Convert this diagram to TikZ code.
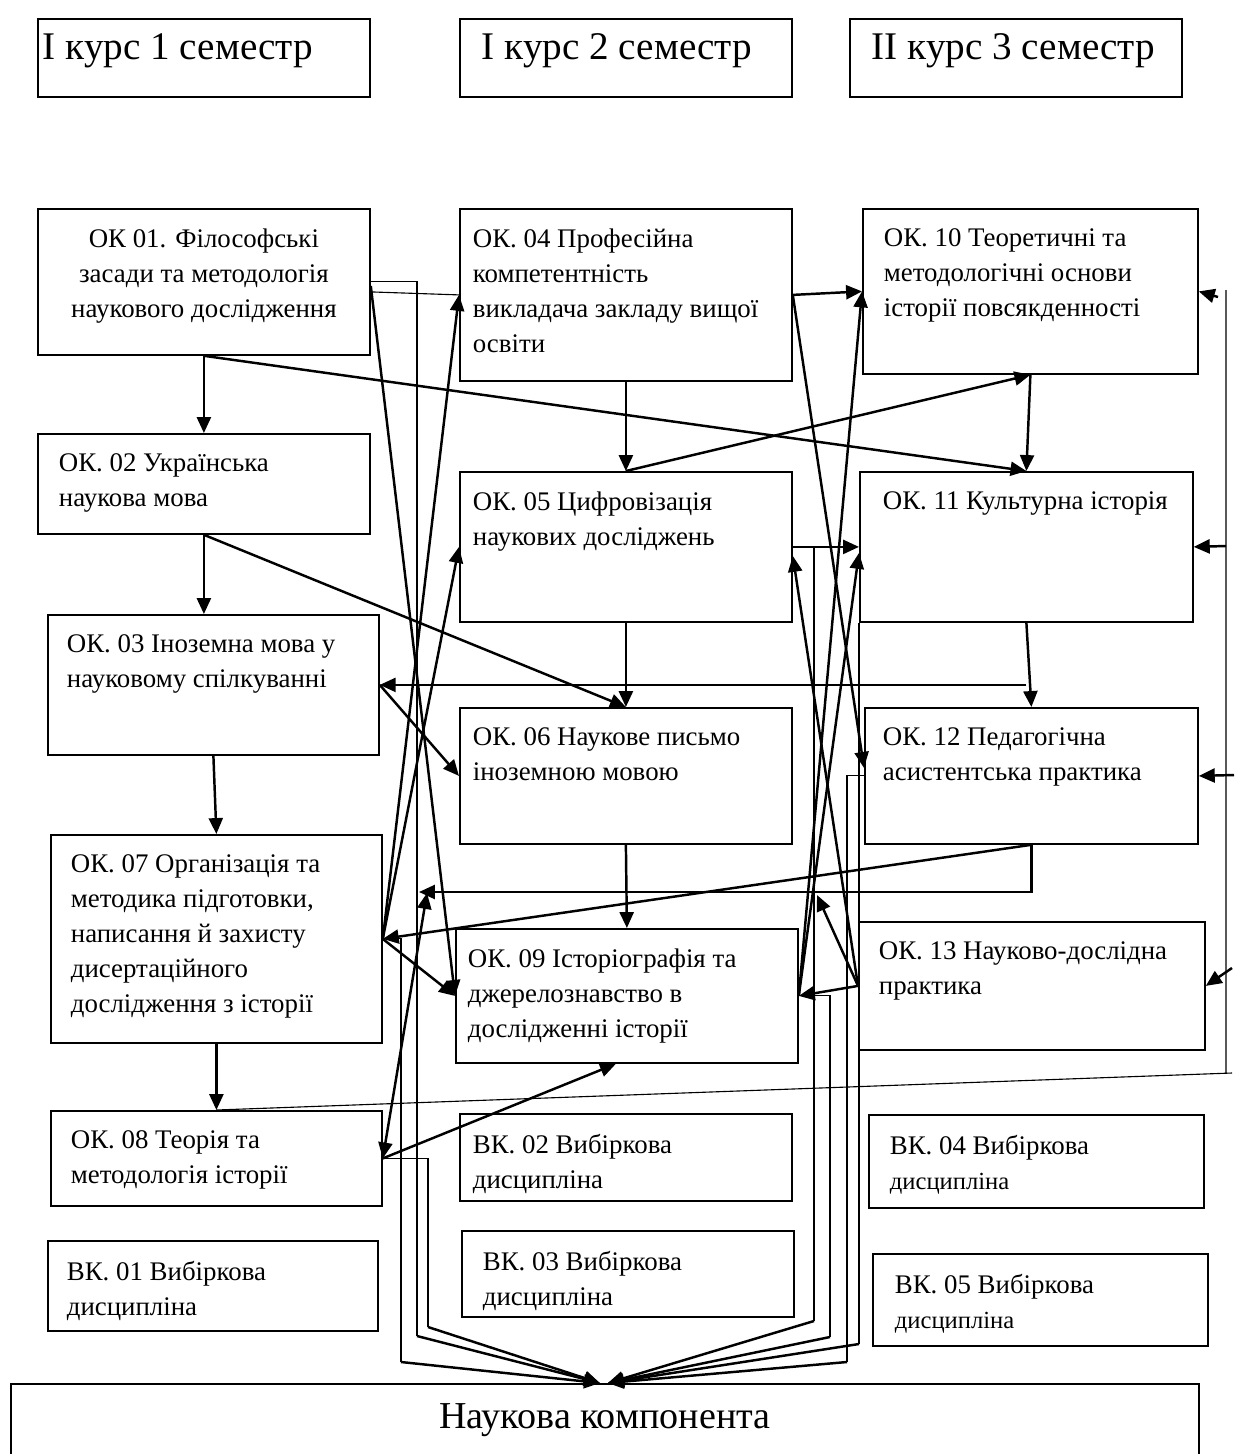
\documentclass[tikz,border=0pt]{standalone}
\usepackage{fontspec}
\setmainfont{Liberation Serif}
\usetikzlibrary{arrows.meta, calc}

\newlength{\pxu}
\setlength{\pxu}{0.157mm}
\newcommand{\boxtext}[3]{\parbox[c][#2\pxu][t]{#1\pxu}{\raggedright #3}}

\tikzset{
  disc/.style={draw, line width=0.8pt, anchor=north west, inner xsep=#1\pxu, inner ysep=20\pxu, font=\fontsize{12}{15.6}\selectfont},
  disc/.default=20,
  head/.style={disc=#1, inner ysep=15\pxu, font=\fontsize{17.5}{22}\selectfont},
  link/.style={line width=1.1pt},
  wire/.style={line width=0.5pt},
}

\begin{document}
\begin{tikzpicture}[x=0.157mm, y=-0.157mm, >={Triangle[length=2.5mm, width=2.2mm]}]
                                \useasboundingbox (0,0) rectangle (1236,1454);

                                \node[head=5] (sem1) at (37,18) {\boxtext{322}{48}{І курс 1 семестр}};
                                \node[head=22] (sem2) at (459,18) {\boxtext{288}{48}{І курс 2 семестр}};
                                \node[head=22] (sem3) at (849,18) {\boxtext{288}{48}{ІІ курс 3 семестр}};

                                \node[disc=10] (ok01) at (37,208) {\boxtext{312}{106}{\centering ОК 01. Філософські\\ засади та методологія\\ наукового дослідження}};
                                \node[disc=21] (ok02) at (37,433) {\boxtext{290}{60}{ОК. 02 Українська\\ наукова мова}};
                                \node[disc=19] (ok03) at (47,614) {\boxtext{293}{100}{ОК. 03 Іноземна мова у\\ науковому спілкуванні}};
                                \node[disc=20] (ok07) at (50,834) {\boxtext{291}{168}{ОК. 07 Організація та\\ методика підготовки,\\ написання й захисту\\ дисертаційного\\ дослідження з історії}};
                                \node[disc=20] (ok08) at (50,1110) {\boxtext{291}{55}{ОК. 08 Теорія та\\ методологія історії}};
                                \node[disc=19] (vk01) at (47,1240) {\boxtext{292}{50}{ВК. 01 Вибіркова\\ дисципліна}};

                                \node[disc=13] (ok04) at (459,208) {\boxtext{306}{132}{ОК. 04 Професійна\\ компетентність\\ викладача закладу вищої\\ освіти}};
                                \node[disc=13] (ok05) at (459,471) {\boxtext{306}{110}{ОК. 05 Цифровізація\\ наукових досліджень}};
                                \node[disc=13] (ok06) at (459,707) {\boxtext{306}{96}{ОК. 06 Наукове письмо\\ іноземною мовою}};
                                \node[disc=12] (ok09) at (455,928) {\boxtext{318}{94}{ОК. 09 Історіографія та\\ джерелознавство в\\ дослідженні історії}};
                                \node[disc=13] (vk02) at (459,1113) {\boxtext{306}{47}{ВК. 02 Вибіркова\\ дисципліна}};
                                \node[disc=21] (vk03) at (461,1230) {\boxtext{290}{46}{ВК. 03 Вибіркова\\ дисципліна}};

                                \node[disc=21] (ok10) at (862,208) {\boxtext{293}{125}{ОК. 10 Теоретичні та\\ методологічні основи\\ історії повсякденності}};
                                \node[disc=23] (ok11) at (859,471) {\boxtext{287}{110}{ОК. 11 Культурна історія}};
                                \node[disc=18] (ok12) at (864,707) {\boxtext{297}{96}{ОК. 12 Педагогічна\\ асистентська практика}};
                                \node[disc=20] (ok13) at (858,921) {\boxtext{306}{88}{ОК. 13 Науково-дослідна\\ практика}};
                                \node[disc=21] (vk04) at (868,1114) {\boxtext{293}{53}{ВК. 04 Вибіркова\\ {\fontsize{11}{14}\selectfont дисципліна}}};
                                \node[disc=22] (vk05) at (872,1253) {\boxtext{291}{52}{ВК. 05 Вибіркова\\ {\fontsize{11}{14}\selectfont дисципліна}}};

                                \node[disc=0, font=\fontsize{17}{20}\selectfont] (nk) at (10,1383) {\boxtext{1188}{60}{\centering Наукова компонента}};

                                \coordinate (nkl) at ($(nk.north)+(-5,0)$);
                                \coordinate (nkr) at ($(nk.north)+(3,0)$);
                                \coordinate (hit1) at (419,892);
                                \coordinate (hit2) at (427,893);
                                \coordinate (hit3) at (817,895);

                                \draw[link]
                                (ok01.south) edge[->] (ok02.north)
                                (ok01.south) edge[->] (ok11.north)
                                (ok02.south) edge[->] (ok02.south |- ok03.north)
                                (ok02.south) edge[->] (ok06.north)
                                (ok03.south) edge[->] (ok07.north)
                                (ok07.south) edge[->] (ok08.north)
                                (ok03.east) edge[->] (ok06.west)
                                (ok04.south) edge[->] (ok05.north)
                                (ok05.north) edge[->] (ok10.south)
                                (ok10.south) edge[->] (ok11.north)
                                (ok05.south) edge[->] (ok06.north)
                                (ok06.south) edge[->] (ok09.north)
                                (ok11.south) edge[->] (ok12.north)
                                (ok11.south |- ok03.east) edge[->] (ok03.east)
                                (ok12.south) edge[->] (ok07.east)
                                (ok07.east) edge[->] (ok04.west)
                                (ok07.east) edge[->] (ok05.west)
                                (ok07.east) edge[->] (ok09.west)
                                ([yshift=-4\pxu]ok01.east) edge[->] (ok09.west)
                                (ok04.east) edge[->] (ok10.west)
                                (ok04.east) edge[->] ([yshift=8\pxu]ok12.west)
                                (ok05.east) edge[->] (ok11.west)
                                (ok09.east) edge[->] (ok10.west)
                                (ok09.east) edge[->] ([yshift=-6\pxu]ok11.west)
                                (ok13.west) edge[->] ([yshift=-9\pxu]ok05.east)
                                (ok13.west) edge[->] (ok09.east)
                                (ok13.west) edge[->] (hit3)
                                (ok08.east) edge[->] ([xshift=-11\pxu]ok09.south)
                                (hit2) edge[<->] (ok08.east);

                                \draw[link, ->] (ok12.south) |- (hit1);

                                \draw[wire] ([yshift=-10\pxu]ok01.east) -- (ok04.west);
                                \draw[wire] (ok01.east) -| (417,1336) edge[link, ->] (nkl);
                                \draw[wire] (ok07.east) -| (401,1362) edge[link, ->] (nkl);
                                \draw[wire] (ok08.east) -| (428,1327) edge[link, ->] (nkl);
                                \draw[wire] (ok05.east) -| (814,1321) edge[link, ->] (nkr);
                                \draw[wire] (ok09.east) -| (830,1337) edge[link, ->] (nkr);
                                \draw[wire] (ok12.west) -| (847,1362) edge[link, ->] (nkr);
                                \draw[wire] (ok11.south west) -- (859,1344) edge[link, ->] (nkr);

                                \draw[wire] (ok08.north) -- (1232,1073) (1226,1073) -- (1226,290);
                                \draw[link]
                                (1218,297) edge[->] (ok10.east)
                                (1226,546) edge[->] (ok11.east)
                                (1234,775) edge[->] (ok12.east)
                                (1232,968) edge[->] (ok13.east);
\end{tikzpicture}
\end{document}
